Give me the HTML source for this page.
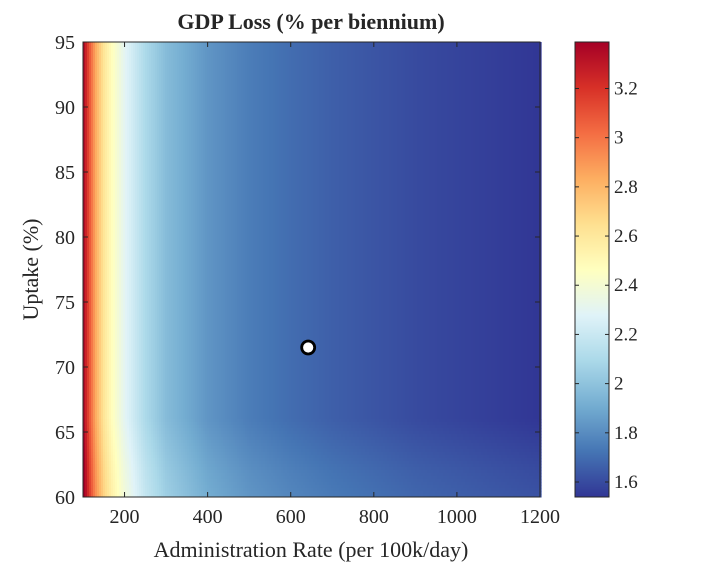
<!DOCTYPE html>
<html><head><meta charset="utf-8"><style>
body{margin:0;background:#fff;}
svg text{font-family:"Liberation Serif",serif;fill:#262626;}
</style></head><body>
<svg id="chart" width="708" height="566" xmlns="http://www.w3.org/2000/svg">
<g id="heat"></g>
<g id="cbar"></g>
<g id="axes"></g>
</svg>
<script>
const rates = [100,115,130,150,170,200,250,300,400,500,600,700,800,900,1000,1100,1200];
const lossByRate = [3.39,3.1,2.85,2.62,2.47,2.3,2.1,1.97,1.83,1.75,1.7,1.66,1.63,1.6,1.58,1.56,1.54];
const uptakes = [60,62,64,66,95];
const uptakeShift = [0.08,0.06,0.03,0,0];
const xTicks = [200,400,600,800,1000,1200];
const yTicks = [60,65,70,75,80,85,90,95];
const cTicks = [1.6,1.8,2,2.2,2.4,2.6,2.8,3,3.2];
const marker = {rate:642, uptake:71.5};

const NS="http://www.w3.org/2000/svg";
const L=83,R=540,T=42,B=497;
const xmin=100,xmax=1200,ymin=60,ymax=95,cmin=1.539,cmax=3.389;
const sx=v=>L+(v-xmin)/(xmax-xmin)*(R-L);
const sy=v=>B-(v-ymin)/(ymax-ymin)*(B-T);
const cy=v=>B-(v-cmin)/(cmax-cmin)*(B-T);
const pal=["#313695","#4575b4","#74add1","#abd9e9","#e0f3f8","#ffffbf","#fee090","#fdae61","#f46d43","#d73027","#a50026"];
function hex(h){return [1,3,5].map(i=>parseInt(h.substr(i,2),16));}
function cmap(v){let t=(v-cmin)/(cmax-cmin);t=Math.max(0,Math.min(1,t))*10;const i=Math.min(9,Math.floor(t)),f=t-i;const a=hex(pal[i]),b=hex(pal[i+1]);return `rgb(${a.map((c,k)=>Math.round(c+(b[k]-c)*f)).join(",")})`;}
function interp(xs,ys,x){if(x<=xs[0])return ys[0];for(let i=1;i<xs.length;i++){if(x<=xs[i]){const f=(x-xs[i-1])/(xs[i]-xs[i-1]);return ys[i-1]+(ys[i]-ys[i-1])*f;}}return ys[ys.length-1];}
function mk(tag,attrs,parent){const e=document.createElementNS(NS,tag);for(const k in attrs)e.setAttribute(k,attrs[k]);parent.appendChild(e);return e;}
const heat=document.getElementById('heat');
const xinv=p=>xmin+(p-L)/(R-L)*(xmax-xmin);
const yinv=p=>ymin+(B-p)/(B-T)*(ymax-ymin);
for(let px=L;px<R;px+=2){
  const r=xinv(px+1);
  const base=interp(rates,lossByRate,r);
  const yTop=sy(uptakes[uptakes.length-2]);
  const c=mk('rect',{x:px,y:T,width:2.6,height:yTop-T+0.5,fill:cmap(base+uptakeShift[uptakeShift.length-1])},heat);
  
  
  for(let py=yTop;py<B;py+=3){
    const u=yinv(py+1.5);
    const cell=mk('rect',{x:px,y:py,width:2.6,height:3.5,fill:cmap(base+interp(uptakes,uptakeShift,u))},heat);
    
    
  }
}
const axes=document.getElementById('axes');
const fr=mk('rect',{x:L,y:T,width:R-L,height:B-T,fill:'none',stroke:'#262626','stroke-width':1},axes);

xTicks.forEach(v=>{const x=sx(v);
  mk('line',{x1:x,x2:x,y1:B,y2:B-5,stroke:'#262626'},axes);
  mk('line',{x1:x,x2:x,y1:T,y2:T+5,stroke:'#262626'},axes);
  const t=mk('text',{x:x,y:B+26,'font-size':20,'text-anchor':'middle'},axes);t.textContent=v;
  });
yTicks.forEach(v=>{const y=sy(v);
  mk('line',{x1:L,x2:L+5,y1:y,y2:y,stroke:'#262626'},axes);
  mk('line',{x1:R,x2:R-5,y1:y,y2:y,stroke:'#262626'},axes);
  const t=mk('text',{x:L-8,y:y+7,'font-size':20,'text-anchor':'end'},axes);t.textContent=v;
  });
const ttl=mk('text',{x:311,y:29,'font-size':22,'font-weight':'bold','text-anchor':'middle',fill:'#000'},axes);ttl.textContent='GDP Loss (% per biennium)';

const xl=mk('text',{x:311,y:557,'font-size':22,'text-anchor':'middle'},axes);xl.textContent='Administration Rate (per 100k/day)';

const yl=mk('text',{x:0,y:0,'font-size':22,'text-anchor':'middle',transform:`translate(38,${(T+B)/2}) rotate(-90)`},axes);yl.textContent='Uptake (%)';

const m=mk('circle',{cx:sx(marker.rate),cy:sy(marker.uptake),r:6.5,fill:'#fff',stroke:'#000','stroke-width':2.8},axes);

const cb=document.getElementById('cbar');const CL=575,CR=609;
for(let p=T;p<B;p+=1){const v=cmin+(B-p-0.5)/(B-T)*(cmax-cmin);
  const s=mk('rect',{x:CL,y:p,width:CR-CL,height:1.5,fill:cmap(v)},cb);
  }
mk('rect',{x:CL,y:T,width:CR-CL,height:B-T,fill:'none',stroke:'#262626'},cb);
cTicks.forEach(v=>{const y=cy(v);
  mk('line',{x1:CR,x2:CR-4,y1:y,y2:y,stroke:'#262626'},cb);
  mk('line',{x1:CL,x2:CL+4,y1:y,y2:y,stroke:'#262626'},cb);
  const t=mk('text',{x:CR+5,y:y+6,'font-size':19},cb);t.textContent=String(v);
  });
</script>
</body></html>
